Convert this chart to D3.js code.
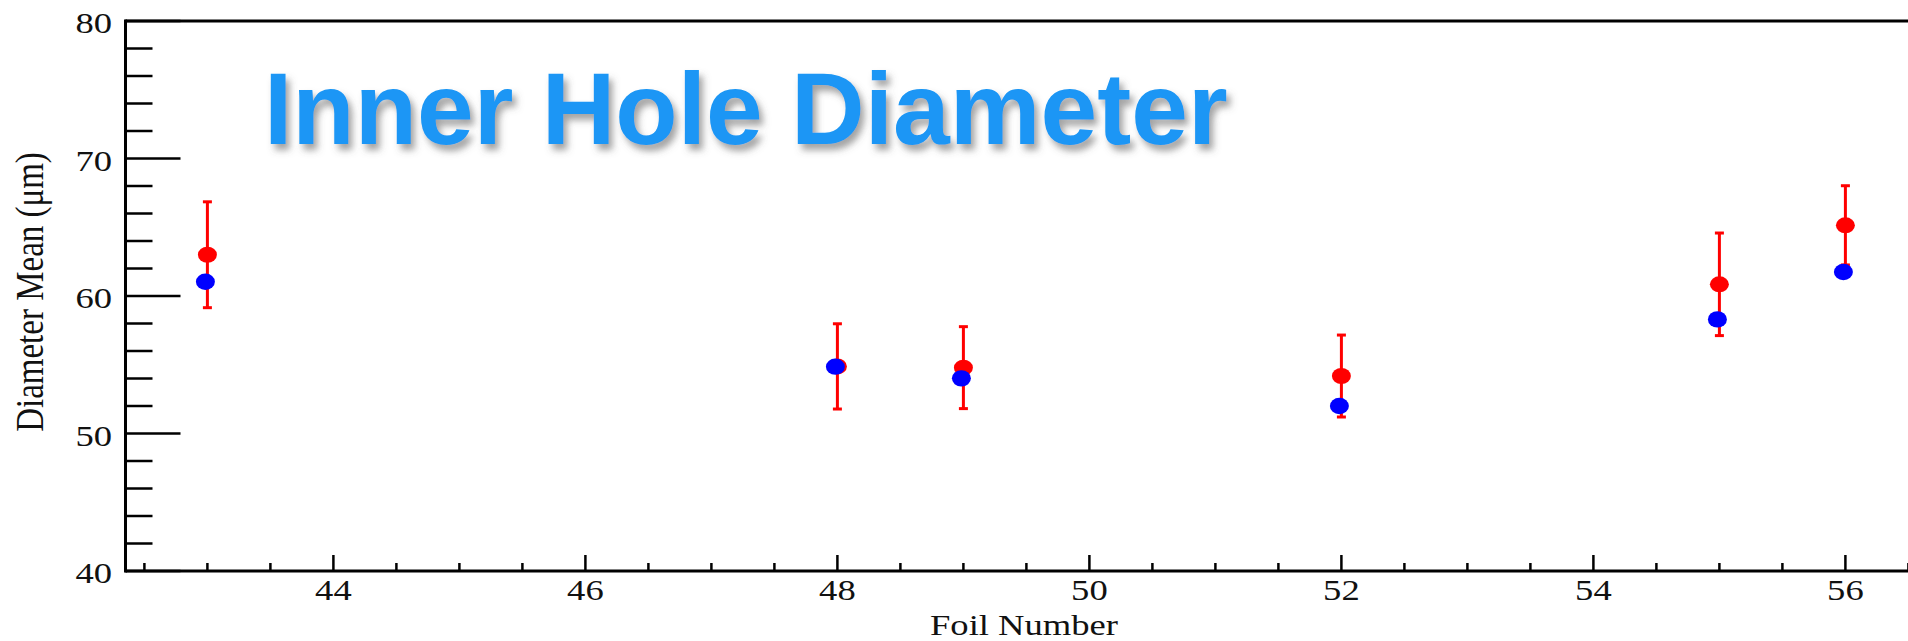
<!DOCTYPE html>
<html>
<head>
<meta charset="utf-8">
<script src="https://cdn.jsdelivr.net/npm/d3@7"></script>
<style>
  html, body { margin: 0; padding: 0; background: #fff; }
  svg { display: block; }
  .serif { font-family: "Liberation Serif", "Times New Roman", serif; fill: #111; }
</style>
</head>
<body>
<svg id="chart" width="1908" height="641"></svg>
<script>
// ---- data ----
const foils      = [43, 48, 49, 52, 55, 56];
const redMean    = [63.0, 54.88, 54.79, 54.18, 60.85, 65.14];
const redErr     = [3.85, 3.10, 2.98, 2.98, 3.73, 2.88];
const blueMean   = [61.04, 54.86, 54.01, 52.0, 58.3, 61.75];
const xMajorTicks = [44, 46, 48, 50, 52, 54, 56];
const yMajorTicks = [40, 50, 60, 70, 80];
const xTitle = "Foil Number";
const yTitle = "Diameter Mean (\u03bcm)";
const overlayTitle = "Inner Hole Diameter";

// ---- layout ----
const W = 1908, H = 641;
const pLeft = 125.5, pTop = 21, pBottom = 571;
const svg = d3.select("#chart");

const x = d3.scaleLinear().domain([42.35, 56.52]).range([pLeft, pLeft + 14.17 * 126]);
const y = d3.scaleLinear().domain([40, 80]).range([pBottom, pTop]);
const SX = 1.2; // horizontal stretch of the original picture
const fs = 30.5;

// defs
const defs = svg.append("defs");
const flt = defs.append("filter").attr("id", "shadow").attr("x", "-10%").attr("y", "-20%").attr("width", "120%").attr("height", "150%");
flt.append("feDropShadow").attr("dx", 4).attr("dy", 6).attr("stdDeviation", 3.5)
  .attr("flood-color", "#555").attr("flood-opacity", 0.55);

// ---- axes ----
const xMinor = d3.range(42.5, 56.51, 0.5).filter(v => !xMajorTicks.includes(v));
const yMinor = d3.range(40, 80.01, 2).filter(v => !yMajorTicks.includes(v));

const gAx = svg.append("g");
gAx.selectAll(".xmin").data(xMinor).join("line")
  .attr("x1", d => x(d)).attr("x2", d => x(d))
  .attr("y1", pBottom).attr("y2", pBottom - 8)
  .attr("stroke", "#000").attr("stroke-width", 2.5);
gAx.selectAll(".xmaj").data(xMajorTicks).join("line")
  .attr("x1", d => x(d)).attr("x2", d => x(d))
  .attr("y1", pBottom).attr("y2", pBottom - 16)
  .attr("stroke", "#000").attr("stroke-width", 2.5);
gAx.selectAll(".ymin").data(yMinor).join("line")
  .attr("x1", pLeft).attr("x2", pLeft + 27)
  .attr("y1", d => y(d)).attr("y2", d => y(d))
  .attr("stroke", "#000").attr("stroke-width", 2.5);
gAx.selectAll(".ymaj").data(yMajorTicks).join("line")
  .attr("x1", pLeft).attr("x2", pLeft + 55)
  .attr("y1", d => y(d)).attr("y2", d => y(d))
  .attr("stroke", "#000").attr("stroke-width", 2.5);

gAx.append("line").attr("x1", pLeft).attr("x2", W + 2).attr("y1", pTop).attr("y2", pTop)
  .attr("stroke", "#000").attr("stroke-width", 3);
gAx.append("line").attr("x1", pLeft).attr("x2", W + 2).attr("y1", pBottom).attr("y2", pBottom)
  .attr("stroke", "#000").attr("stroke-width", 3);
gAx.append("line").attr("x1", pLeft).attr("x2", pLeft).attr("y1", pTop - 1.5).attr("y2", pBottom + 1.5)
  .attr("stroke", "#000").attr("stroke-width", 3);

// tick labels
svg.selectAll(".xl").data(xMajorTicks).join("text")
  .attr("class", "serif").attr("font-size", fs).attr("text-anchor", "middle")
  .attr("transform", d => `translate(${x(d)},${pBottom + 29}) scale(${SX},1)`)
  .text(d => d);
svg.selectAll(".yl").data(yMajorTicks).join("text")
  .attr("class", "serif").attr("font-size", fs).attr("text-anchor", "end")
  .attr("transform", d => `translate(112,${y(d) + 12}) scale(${SX},1)`)
  .text(d => d);

// axis titles
svg.append("text").attr("class", "serif").attr("font-size", fs).attr("text-anchor", "middle")
  .attr("transform", `translate(1024,635) scale(${SX},1)`).text(xTitle);
svg.append("text").attr("class", "serif").attr("font-size", 33).attr("text-anchor", "middle")
  .attr("transform", `translate(43,${(pTop + pBottom) / 2 - 4}) scale(${SX},1) rotate(-90)`).text(yTitle);

// ---- data marks ----
const data = foils.map((f, i) => ({ f, r: redMean[i], e: redErr[i], b: blueMean[i] }));
const gD = svg.append("g");
gD.selectAll(".eb").data(data).join("line")
  .attr("x1", d => x(d.f)).attr("x2", d => x(d.f))
  .attr("y1", d => y(d.r - d.e)).attr("y2", d => y(d.r + d.e))
  .attr("stroke", "#ff0000").attr("stroke-width", 3);
gD.selectAll(".cap1").data(data).join("line")
  .attr("x1", d => x(d.f) - 4.5).attr("x2", d => x(d.f) + 4.5)
  .attr("y1", d => y(d.r + d.e)).attr("y2", d => y(d.r + d.e))
  .attr("stroke", "#ff0000").attr("stroke-width", 3);
gD.selectAll(".cap2").data(data).join("line")
  .attr("x1", d => x(d.f) - 4.5).attr("x2", d => x(d.f) + 4.5)
  .attr("y1", d => y(d.r - d.e)).attr("y2", d => y(d.r - d.e))
  .attr("stroke", "#ff0000").attr("stroke-width", 3);
gD.selectAll(".rd").data(data).join("ellipse")
  .attr("cx", d => x(d.f)).attr("cy", d => y(d.r)).attr("rx", 9.5).attr("ry", 8)
  .attr("fill", "#ff0000");
gD.selectAll(".bd").data(data).join("ellipse")
  .attr("cx", d => x(d.f) - 2).attr("cy", d => y(d.b)).attr("rx", 9.5).attr("ry", 8.2)
  .attr("fill", "#0000ff");

// ---- overlay title ----
svg.append("text")
  .attr("x", 264).attr("y", 144)
  .attr("font-family", "'Liberation Sans', Arial, Helvetica, sans-serif")
  .attr("font-weight", "bold").attr("font-size", 102)
  .attr("fill", "#1a96f5").attr("filter", "url(#shadow)")
  .text(overlayTitle);
</script>
</body>
</html>
